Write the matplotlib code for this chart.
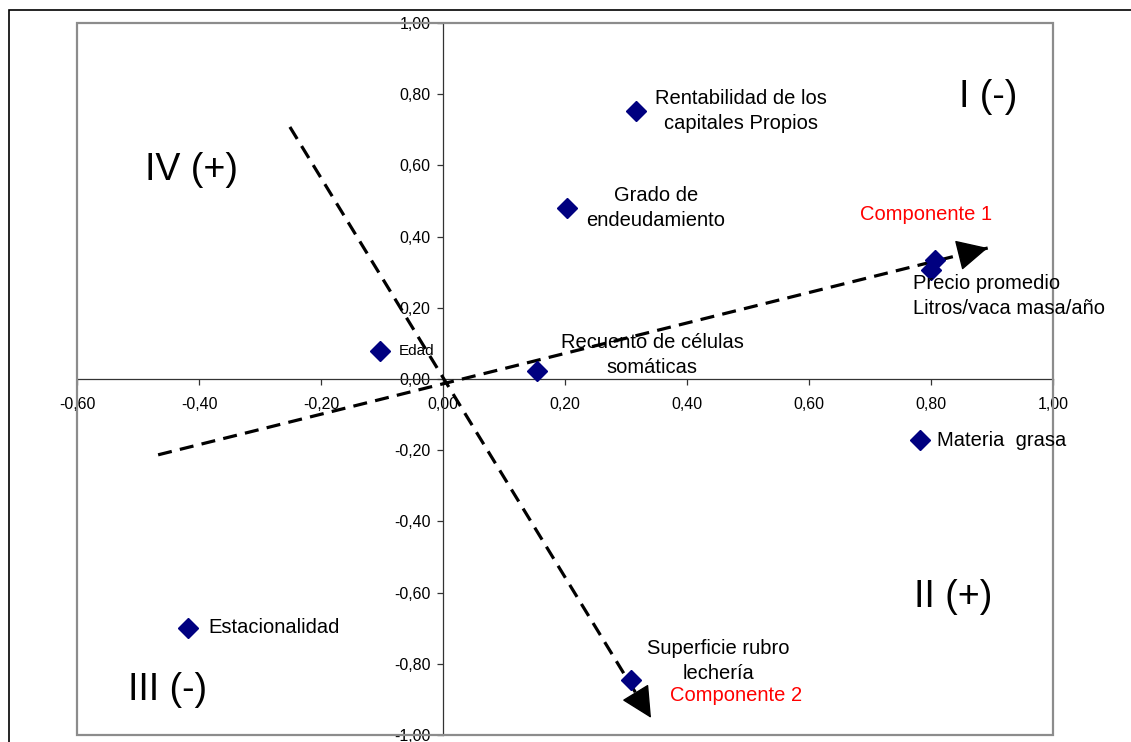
import matplotlib
matplotlib.use("Agg")
import matplotlib.pyplot as plt
from matplotlib.patches import Rectangle
from matplotlib.ticker import FuncFormatter, MultipleLocator

### Data --------------------------------------------------------------------------------------------------------------

pointX = [0.316, 0.203, 0.807, 0.800, -0.103, 0.154, 0.782, -0.418, 0.308]
pointY = [0.753, 0.480, 0.334, 0.306, 0.079, 0.022, -0.171, -0.699, -0.846]

# label text, x, y, horizontal alignment, font size
labels = [
    ("Rentabilidad de los\ncapitales Propios", 0.489, 0.753, "center", 14.5),
    ("Grado de\nendeudamiento", 0.349, 0.480, "center", 14.5),
    ("Precio promedio\nLitros/vaca masa/año", 0.770, 0.233, "left", 14.5),
    ("Recuento de células\nsomáticas", 0.343, 0.067, "center", 14.5),
    ("Edad", -0.072, 0.079, "left", 11),
    ("Materia  grasa", 0.810, -0.174, "left", 14.5),
    ("Estacionalidad", -0.385, -0.699, "left", 14.5),
    ("Superficie rubro\nlechería", 0.452, -0.792, "center", 14.5),
]

componentNames = ["Componente 1", "Componente 2"]
componentLabelX = [0.792, 0.480]
componentLabelY = [0.461, -0.890]
componentStart = [(-0.467, -0.213), (-0.251, 0.708)]
componentTip = [(0.893, 0.368), (0.341, -0.952)]

quadrantNames = ["I (-)", "II (+)", "III (-)", "IV (+)"]
quadrantX = [0.893, 0.836, -0.451, -0.413]
quadrantY = [0.792, -0.612, -0.874, 0.587]

### Figure ------------------------------------------------------------------------------------------------------------

plt.rcParams['font.family'] = ['Liberation Sans', 'DejaVu Sans']

fig = plt.figure(figsize=(11.31, 7.42), dpi=100)
ax = fig.add_axes([77 / 1131, 7 / 742, 976 / 1131, 712 / 742])
ax.set_xlim(-0.6, 1.0)
ax.set_ylim(-1.0, 1.0)

# outer chart frame (partly cut off)
fig.add_artist(Rectangle((8.5 / 1131, -0.2), 2, 1.2 - 9.5 / 742, transform=fig.transFigure,
                         fill=False, edgecolor='black', linewidth=1.2))

# axes through zero
for side in ['left', 'bottom']:
    ax.spines[side].set_position(('data', 0))
    ax.spines[side].set_color('#333333')
    ax.spines[side].set_linewidth(0.9)
for side in ['top', 'right']:
    ax.spines[side].set_visible(False)
ax.add_patch(Rectangle((0, 0), 1, 1, transform=ax.transAxes, fill=False,
                       edgecolor='#8c8c8c', linewidth=1.6, clip_on=False, zorder=5))

fmt = FuncFormatter(lambda v, p: ("%.2f" % v).replace('.', ','))
ax.xaxis.set_major_locator(MultipleLocator(0.2))
ax.yaxis.set_major_locator(MultipleLocator(0.2))
ax.xaxis.set_major_formatter(fmt)
ax.yaxis.set_major_formatter(fmt)
ax.tick_params(axis='x', direction='out', length=4, width=0.9, color='#333333', labelsize=11.5, pad=9)
ax.tick_params(axis='y', direction='out', length=4, width=0.9, color='#333333', labelsize=11.5, pad=5)

# component arrows
for (sx, sy), (tx, ty) in zip(componentStart, componentTip):
    ax.plot([sx, tx], [sy, ty], color='black', linewidth=2.3, dashes=(4.4, 2.6), zorder=3)
    dx, dy = tx - sx, ty - sy
    ax.annotate('', xy=(tx, ty), xytext=(tx - 0.03 * dx, ty - 0.03 * dy),
                arrowprops=dict(arrowstyle='-|>,head_length=1.0,head_width=0.5', mutation_scale=20,
                                color='black', linewidth=1, shrinkA=0, shrinkB=0), zorder=4)

ax.plot(pointX, pointY, linestyle='none', marker='D', markersize=10, color='#000080', zorder=4)

for text, x, y, ha, size in labels:
    ax.text(x, y, text, ha=ha, va='center', fontsize=size, linespacing=1.4, zorder=6)

for name, x, y in zip(componentNames, componentLabelX, componentLabelY):
    ax.text(x, y, name, ha='center', va='center', fontsize=14.5, color='red', zorder=6)

for name, x, y in zip(quadrantNames, quadrantX, quadrantY):
    ax.text(x, y, name, ha='center', va='center', fontsize=27, zorder=6)

fig.savefig('out.png', dpi=100)
